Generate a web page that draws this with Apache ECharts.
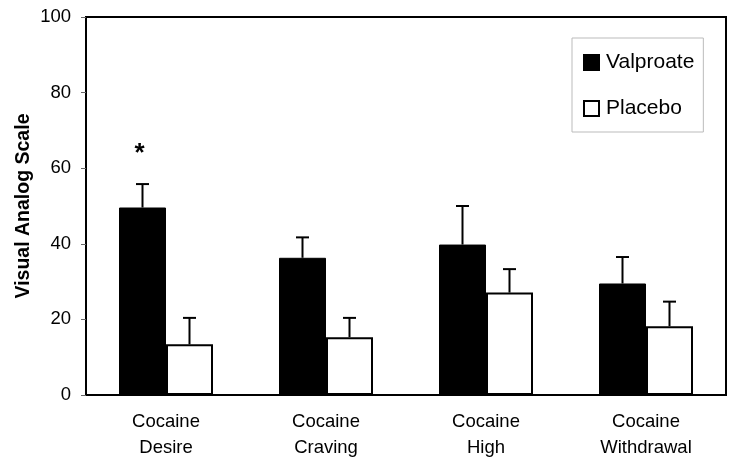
<!DOCTYPE html>
<html>
<head>
<meta charset="utf-8">
<script src="https://cdn.jsdelivr.net/npm/echarts@6/dist/echarts.min.js"></script>
<style>html,body{margin:0;padding:0;background:#fff;}#c{width:734px;height:464px;}</style>
</head>
<body>
<div id="c"></div>
<script>
var categories = ['Cocaine\nDesire', 'Cocaine\nCraving', 'Cocaine\nHigh', 'Cocaine\nWithdrawal'];
var valproate = [49.6, 36.3, 39.8, 29.5];
var valproateErr = [6.2, 5.4, 10.2, 7.0];
var placebo = [13.4, 15.3, 27.1, 18.2];
var placeboErr = [7.0, 5.1, 6.2, 6.5];
var significance = ['*', '', '', ''];
var yTicks = [0, 20, 40, 60, 80, 100];

var FONT = '"Liberation Sans", Arial, sans-serif';
var BAR_W = 47;

function errData(vals, errs) {
  return vals.map(function (v, i) { return [i, v, v + errs[i]]; });
}

function makeErrRender(side) {
  return function (params, api) {
    var i = api.value(0);
    var top = api.coord([i, api.value(2)]);
    var base = api.coord([i, api.value(1)]);
    var x = top[0] + side * BAR_W / 2;
    var children = [
      { type: 'line', shape: { x1: x, y1: base[1], x2: x, y2: top[1] }, style: { stroke: '#000', lineWidth: 2 } },
      { type: 'line', shape: { x1: x - 6.5, y1: top[1], x2: x + 6.5, y2: top[1] }, style: { stroke: '#000', lineWidth: 2 } }
    ];
    if (side < 0 && significance[i]) {
      children.push({ type: 'text', style: { text: significance[i], x: x - 3, y: top[1] - 30, align: 'center', verticalAlign: 'middle', font: 'bold 26px ' + FONT, fill: '#000' } });
    }
    return { type: 'group', children: children };
  };
}

var chart = echarts.init(document.getElementById('c'), null, { renderer: 'canvas' });
chart.setOption({
  animation: false,
  backgroundColor: '#fff',
  grid: { left: 86, right: 8, top: 17, bottom: 69, show: true, borderColor: '#000', borderWidth: 2, backgroundColor: 'transparent' },
  legend: {
    data: ['Valproate', 'Placebo'],
    orient: 'vertical',
    left: 572, top: 38,
    padding: [14, 9, 13, 11],
    itemGap: 25,
    itemWidth: 15, itemHeight: 15,
    icon: 'rect',
    borderColor: '#bbb', borderWidth: 1,
    textStyle: { fontFamily: FONT, fontSize: 21, color: '#000', padding: [0, 0, 0, 2] }
  },
  xAxis: {
    type: 'category',
    data: categories,
    axisLine: { show: true, lineStyle: { color: '#000', width: 2 } },
    axisTick: { show: false },
    axisLabel: { fontFamily: FONT, fontSize: 18.5, color: '#000', lineHeight: 26, margin: 14 }
  },
  yAxis: {
    type: 'value',
    min: yTicks[0], max: yTicks[yTicks.length - 1], interval: 20,
    name: 'Visual Analog Scale',
    nameLocation: 'middle',
    nameGap: 52,
    nameMoveOverlap: false,
    nameTextStyle: { fontFamily: FONT, fontSize: 19.5, fontWeight: 'bold', color: '#000' },
    axisLine: { show: true, lineStyle: { color: '#000', width: 2 } },
    axisTick: { show: true, inside: false, length: 5, lineStyle: { color: '#666', width: 1 } },
    splitLine: { show: false },
    axisLabel: { fontFamily: FONT, fontSize: 18.5, color: '#000', margin: 15 }
  },
  series: [
    { name: 'Valproate', type: 'bar', data: valproate, barWidth: BAR_W, barGap: '0%',
      itemStyle: { color: '#000', borderColor: '#000', borderWidth: 1 } },
    { name: 'Placebo', type: 'bar', data: placebo, barWidth: BAR_W, barGap: '0%',
      itemStyle: { color: '#fff', borderColor: '#000', borderWidth: 2 } },
    { type: 'custom', data: errData(valproate, valproateErr), renderItem: makeErrRender(-1), z: 5 },
    { type: 'custom', data: errData(placebo, placeboErr), renderItem: makeErrRender(1), z: 5 }
  ]
});
</script>
</body>
</html>
